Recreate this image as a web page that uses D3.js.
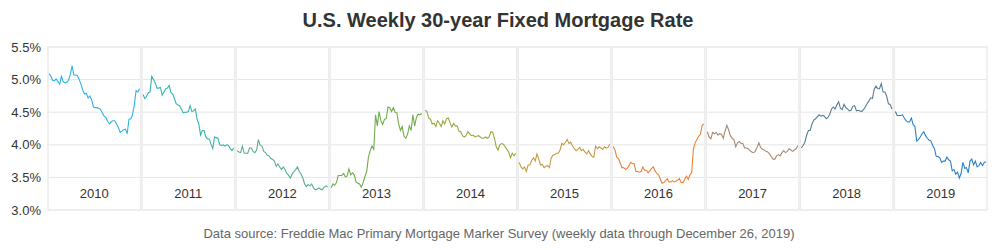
<!DOCTYPE html>
<html>
<head>
<meta charset="utf-8">
<script src="https://cdn.jsdelivr.net/npm/d3@7"></script>
<style>
  body { margin: 0; background: #fff; }
  svg { font-family: "Liberation Sans", Arial, sans-serif; }
</style>
</head>
<body>
<svg id="chart" width="1000" height="250"></svg>
<script>
// weekly 30-year fixed rate (%), one array per year
var years = ["2010", "2011", "2012", "2013", "2014", "2015", "2016", "2017", "2018", "2019"];
var yTicks = [3.0, 3.5, 4.0, 4.5, 5.0, 5.5];
var colors = ["#2cb3ea", "#35b5b0", "#5aaf8c", "#70ad4c", "#9aa83c", "#c49a45", "#e8833a", "#a88a72", "#557d96", "#2b80c9"];

var rates2010 = [5.09,5.06,4.99,4.98,5.01,4.97,4.93,5.05,4.97,4.95,4.96,4.99,5.08,5.21,5.07,5.07,5.06,5.00,4.93,4.84,4.78,4.79,4.72,4.75,4.69,4.58,4.57,4.57,4.56,4.54,4.49,4.44,4.42,4.36,4.32,4.35,4.37,4.37,4.32,4.27,4.19,4.21,4.23,4.24,4.17,4.39,4.40,4.46,4.61,4.83,4.81,4.86];
var rates2011 = [4.77,4.71,4.74,4.80,4.81,5.05,5.00,4.95,4.87,4.87,4.88,4.76,4.81,4.86,4.87,4.91,4.80,4.78,4.71,4.63,4.61,4.60,4.55,4.49,4.50,4.50,4.51,4.60,4.51,4.52,4.55,4.39,4.32,4.15,4.22,4.22,4.12,4.09,4.09,4.01,3.94,4.12,4.11,4.10,4.00,3.99,4.00,3.98,4.00,3.99,3.94,3.91,3.95];
var rates2012 = [3.91,3.89,3.88,3.98,3.87,3.87,3.87,3.95,3.95,3.90,3.88,3.92,4.08,3.99,3.98,3.90,3.88,3.84,3.83,3.79,3.78,3.75,3.67,3.71,3.66,3.62,3.66,3.62,3.56,3.53,3.49,3.55,3.59,3.62,3.66,3.59,3.55,3.49,3.40,3.36,3.39,3.37,3.40,3.34,3.31,3.32,3.34,3.32,3.31,3.35,3.37,3.35];
var rates2013 = [3.34,3.40,3.38,3.42,3.53,3.53,3.53,3.56,3.51,3.52,3.63,3.54,3.57,3.54,3.43,3.41,3.40,3.35,3.42,3.51,3.59,3.81,3.91,3.98,3.93,4.46,4.29,4.51,4.37,4.31,4.39,4.40,4.58,4.57,4.51,4.57,4.50,4.49,4.32,4.22,4.28,4.13,4.10,4.16,4.29,4.22,4.46,4.29,4.42,4.47,4.46,4.48];
var rates2014 = [4.53,4.51,4.41,4.39,4.32,4.33,4.28,4.37,4.33,4.28,4.37,4.32,4.40,4.41,4.34,4.27,4.33,4.29,4.29,4.21,4.20,4.14,4.12,4.14,4.20,4.17,4.14,4.15,4.12,4.13,4.14,4.12,4.10,4.10,4.12,4.10,4.12,4.20,4.19,4.10,3.97,3.92,4.00,4.02,4.01,3.97,3.93,3.89,3.80,3.87,3.83,3.87];
var rates2015 = [3.73,3.66,3.63,3.66,3.59,3.69,3.69,3.76,3.80,3.75,3.86,3.78,3.69,3.70,3.65,3.67,3.68,3.65,3.80,3.84,3.85,3.87,3.87,3.92,4.02,4.00,4.04,4.08,4.02,4.04,3.98,3.94,3.91,3.93,3.96,3.91,3.93,3.89,3.86,3.91,3.86,3.82,3.81,3.98,3.94,3.97,3.95,3.93,3.97,3.95,3.96,4.01];
var rates2016 = [3.97,3.92,3.81,3.79,3.72,3.65,3.65,3.62,3.64,3.68,3.73,3.71,3.71,3.59,3.59,3.58,3.59,3.66,3.61,3.61,3.57,3.60,3.64,3.66,3.60,3.56,3.54,3.48,3.41,3.42,3.45,3.48,3.43,3.43,3.45,3.43,3.44,3.46,3.48,3.42,3.42,3.47,3.52,3.47,3.54,3.57,3.94,4.03,4.08,4.13,4.16,4.30,4.32];
var rates2017 = [4.20,4.12,4.09,4.19,4.17,4.19,4.15,4.17,4.16,4.10,4.21,4.30,4.23,4.14,4.10,4.08,3.97,4.03,4.05,4.02,4.02,3.95,3.95,3.94,3.91,3.89,3.88,3.90,3.96,4.03,3.96,3.93,3.92,3.90,3.89,3.86,3.82,3.78,3.78,3.83,3.85,3.83,3.88,3.91,3.88,3.90,3.94,3.92,3.90,3.92,3.94,3.99];
var rates2018 = [3.95,3.99,4.04,4.15,4.22,4.22,4.32,4.38,4.40,4.43,4.46,4.44,4.45,4.44,4.40,4.42,4.47,4.55,4.58,4.55,4.61,4.66,4.56,4.54,4.62,4.57,4.55,4.52,4.53,4.59,4.60,4.52,4.53,4.52,4.51,4.54,4.58,4.63,4.67,4.72,4.71,4.85,4.90,4.86,4.86,4.94,4.81,4.81,4.75,4.63,4.62,4.55];
var rates2019 = [4.51,4.45,4.45,4.45,4.46,4.41,4.37,4.35,4.35,4.41,4.31,4.28,4.06,4.08,4.12,4.17,4.20,4.14,4.10,4.07,4.06,3.99,3.94,3.82,3.82,3.80,3.73,3.75,3.75,3.81,3.77,3.75,3.60,3.62,3.55,3.58,3.49,3.56,3.73,3.64,3.65,3.57,3.75,3.78,3.69,3.75,3.66,3.68,3.73,3.68,3.73,3.74];

var series = [rates2010, rates2011, rates2012, rates2013, rates2014, rates2015, rates2016, rates2017, rates2018, rates2019];

var svg = d3.select("#chart");
var plotLeft = 48, plotRight = 987, plotTop = 47, plotBottom = 210;

var xBand = d3.scaleBand().domain(years).range([plotLeft, plotRight]).paddingInner(0.015);
var y = d3.scaleLinear().domain([3.0, 5.5]).range([plotBottom, plotTop]);

// title
svg.append("text")
    .attr("x", 498).attr("y", 27)
    .attr("text-anchor", "middle")
    .attr("font-size", "20px").attr("font-weight", "bold")
    .attr("fill", "#333")
    .text("U.S. Weekly 30-year Fixed Mortgage Rate");

// y axis labels
svg.append("g").selectAll("text")
    .data(yTicks)
    .enter().append("text")
    .attr("x", 41).attr("y", function(d) { return y(d); })
    .attr("dy", "0.35em")
    .attr("text-anchor", "end")
    .attr("font-size", "13px").attr("fill", "#333")
    .text(function(d) { return d3.format(".1f")(d) + "%"; });

var panel = svg.append("g").selectAll("g")
    .data(years)
    .enter().append("g")
    .attr("class", "panel");

panel.each(function(yr, i) {
    var g = d3.select(this);
    var x0 = xBand(yr), w = xBand.bandwidth();
    // horizontal grid inside each panel
    g.selectAll("line.grid")
        .data(yTicks)
        .enter().append("line")
        .attr("class", "grid")
        .attr("x1", x0).attr("x2", x0 + w)
        .attr("y1", function(d) { return y(d); })
        .attr("y2", function(d) { return y(d); })
        .attr("stroke", "#e6e6e6").attr("stroke-width", 1);
    g.append("rect")
        .attr("x", x0).attr("y", plotTop)
        .attr("width", w).attr("height", plotBottom - plotTop)
        .attr("fill", "none").attr("stroke", "#ececec").attr("stroke-width", 1.5);

    g.append("text")
        .attr("x", x0 + w / 2).attr("y", 198)
        .attr("text-anchor", "middle")
        .attr("font-size", "13px").attr("fill", "#333")
        .text(yr);

    var data = series[i];
    var xw = d3.scaleLinear().domain([0, data.length - 1]).range([x0 + 1, x0 + w - 1]);
    var line = d3.line()
        .x(function(d, j) { return xw(j); })
        .y(function(d) { return y(d); });
    g.append("path")
        .datum(data)
        .attr("d", line)
        .attr("fill", "none")
        .attr("stroke", colors[i])
        .attr("stroke-width", 1.1);
});

// source note
svg.append("text")
    .attr("x", 499).attr("y", 238)
    .attr("text-anchor", "middle")
    .attr("font-size", "13px").attr("fill", "#666")
    .text("Data source: Freddie Mac Primary Mortgage Marker Survey (weekly data through December 26, 2019)");
</script>
</body>
</html>
